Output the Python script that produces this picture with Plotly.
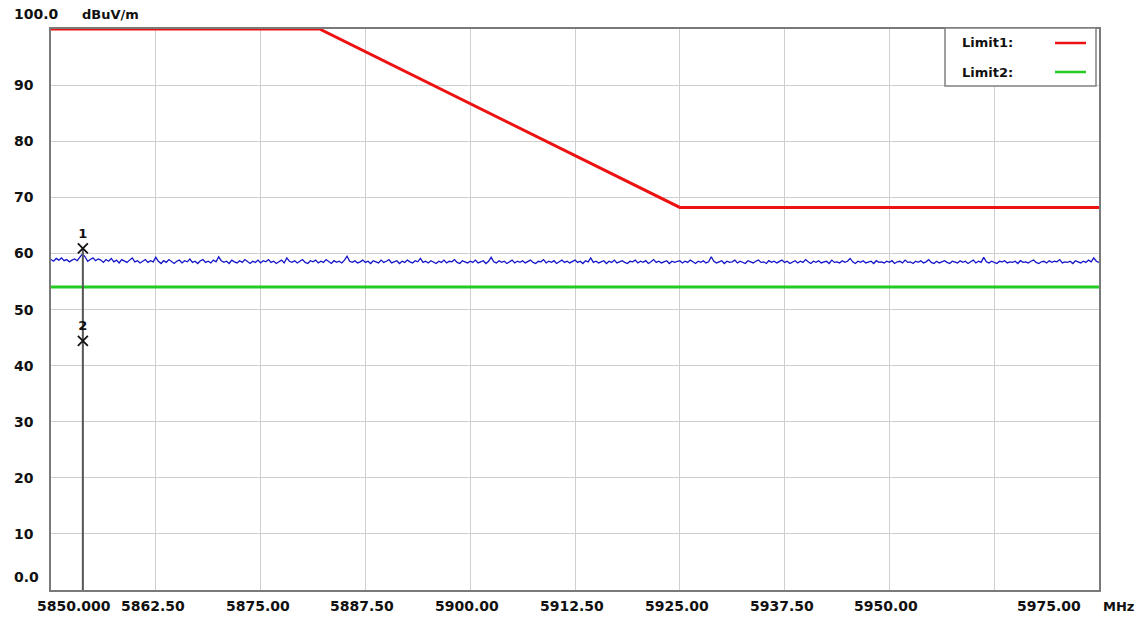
import plotly.graph_objects as go

# Frequency axis (MHz) and level axis (dBuV/m)
f_start, f_stop = 5850.0, 5975.0
x_grid = [5850.0, 5862.5, 5875.0, 5887.5, 5900.0, 5912.5, 5925.0, 5937.5, 5950.0, 5962.5, 5975.0]
x_labels = ["5850.000", "5862.50", "5875.00", "5887.50", "5900.00", "5912.50", "5925.00", "5937.50", "5950.00", "", "5975.00"]
y_grid = [0, 10, 20, 30, 40, 50, 60, 70, 80, 90, 100]
y_labels = ["0.0", "10", "20", "30", "40", "50", "60", "70", "80", "90", "100.0"]

# Limit lines
limit1_freq = [5850.0, 5882.03, 5925.0, 5975.0]
limit1_level = [100.0, 100.0, 68.2, 68.2]
limit2_freq = [5850.0, 5975.0]
limit2_level = [54.0, 54.0]

# Measured sweep, 0.3125 MHz step
sweep_step = 0.3125
sweep_level = [
    58.9, 58.6, 59.1, 58.8, 59.2, 58.7, 58.9, 58.5, 58.8, 59.0, 58.7, 59.3, 59.9, 59.4, 58.6, 58.9, 59.2, 58.7, 59.0, 58.8,
    58.4, 58.9, 58.6, 59.1, 58.5, 58.8, 58.3, 58.9, 58.6, 58.4, 58.8, 59.2, 58.5, 58.7, 58.3, 58.6, 58.9, 58.4, 58.7, 58.5,
    59.3, 58.6, 58.2, 58.7, 58.4, 58.9, 58.5, 58.2, 58.6, 58.8, 58.3, 58.7, 58.5, 59.0, 58.4, 58.6, 58.2, 58.7, 58.9, 58.4,
    58.6, 58.3, 58.8, 58.5, 59.4, 58.7, 58.4, 58.6, 58.2, 58.8, 58.5, 58.3, 58.7, 58.4, 58.9, 58.5, 58.2, 58.6, 58.4, 58.8,
    58.3, 58.7, 58.5, 58.9, 58.4, 58.6, 58.2, 58.5, 58.8, 58.3, 59.2, 58.6, 58.4, 58.7, 58.3, 58.6, 58.9, 58.4, 58.2, 58.7,
    58.5, 58.8, 58.3, 58.6, 58.4, 58.9, 58.5, 58.2, 58.7, 58.4, 58.6, 58.3, 58.8, 59.5, 58.6, 58.4, 58.7, 58.3, 58.5, 58.8,
    58.4, 58.6, 58.2, 58.7, 58.5, 58.3, 58.8, 58.4, 58.6, 58.9, 58.3, 58.5, 58.7, 58.2, 58.6, 58.4, 58.8, 58.5, 58.3, 58.7,
    58.5, 59.1, 58.4, 58.6, 58.3, 58.7, 58.5, 58.2, 58.6, 58.4, 58.8, 58.3, 58.6, 58.5, 58.9, 58.4, 58.2, 58.7, 58.5, 58.3,
    58.6, 58.4, 58.8, 58.3, 58.5, 58.7, 58.2, 58.6, 59.3, 58.5, 58.3, 58.7, 58.4, 58.6, 58.2, 58.5, 58.8, 58.3, 58.6, 58.4,
    58.7, 58.3, 58.5, 58.8, 58.4, 58.2, 58.6, 58.5, 58.9, 58.3, 58.6, 58.4, 58.7, 58.2, 58.5, 58.8, 58.4, 58.6, 58.3, 58.5,
    58.8, 58.4, 58.6, 58.2, 58.7, 58.5, 59.2, 58.4, 58.6, 58.3, 58.5, 58.7, 58.2, 58.6, 58.4, 58.8, 58.3, 58.5, 58.7, 58.4,
    58.2, 58.6, 58.5, 58.8, 58.3, 58.6, 58.4, 58.7, 58.2, 58.5, 58.9, 58.4, 58.6, 58.3, 58.5, 58.7, 58.2, 58.6, 58.4, 58.5,
    58.7, 58.3, 58.6, 58.4, 58.8, 58.5, 58.2, 58.6, 58.4, 58.7, 58.3, 58.5, 59.4, 58.6, 58.3, 58.5, 58.7, 58.2, 58.6, 58.4,
    58.5, 58.8, 58.3, 58.6, 58.4, 58.2, 58.7, 58.5, 58.3, 58.6, 58.8, 58.4, 58.5, 58.2, 58.7, 58.4, 58.6, 58.3, 58.5, 58.8,
    58.4, 58.6, 58.2, 58.5, 58.7, 58.3, 58.6, 58.4, 58.9, 58.5, 58.2, 58.6, 58.4, 58.7, 58.3, 58.5, 58.6, 58.2, 58.8, 58.4,
    58.5, 58.3, 58.7, 58.4, 58.6, 59.1, 58.5, 58.2, 58.6, 58.4, 58.7, 58.3, 58.5, 58.6, 58.2, 58.7, 58.4, 58.5, 58.3, 58.6,
    58.4, 58.7, 58.2, 58.5, 58.6, 58.3, 58.8, 58.4, 58.5, 58.2, 58.6, 58.4, 58.7, 58.3, 58.5, 58.9, 58.4, 58.2, 58.6, 58.3,
    58.5, 58.7, 58.4, 58.2, 58.6, 58.5, 58.3, 58.7, 58.4, 58.6, 58.2, 58.5, 58.8, 58.3, 58.6, 58.4, 59.3, 58.5, 58.3, 58.6,
    58.4, 58.2, 58.6, 58.5, 58.7, 58.3, 58.5, 58.4, 58.6, 58.2, 58.7, 58.4, 58.5, 58.3, 58.6, 58.8, 58.4, 58.2, 58.5, 58.6,
    58.3, 58.7, 58.4, 58.6, 58.5, 58.9, 58.3, 58.5, 58.4, 58.6, 58.2, 58.7, 58.5, 58.3, 58.6, 58.4, 58.8, 58.5, 59.2, 58.6,
    58.4,
]
sweep_freq = [f_start + i * sweep_step for i in range(len(sweep_level))]

# Markers
marker_ids = ["1", "2"]
marker_freq = [5853.8, 5853.8]
marker_level = [60.9, 44.4]

# Page geometry (pixels)
W, H = 1140, 618
M_L, M_R, M_T, M_B = 51, 41, 29, 28
PW, PH = W - M_L - M_R, H - M_T - M_B


def px_x(px):
    return (px - M_L) / PW


def px_y(py):
    return (H - M_B - py) / PH


BOLD = dict(family="DejaVu Sans", size=14, color="#111111", weight="bold")
BOLD_SM = dict(family="DejaVu Sans", size=13, color="#111111", weight="bold")

fig = go.Figure()

fig.add_trace(go.Scatter(
    x=sweep_freq, y=sweep_level, mode="lines",
    line=dict(color="#1414c8", width=1.3), hoverinfo="skip", showlegend=False,
))
fig.add_trace(go.Scatter(
    x=limit2_freq, y=limit2_level, mode="lines",
    line=dict(color="#22cc22", width=3), showlegend=False,
))
fig.add_trace(go.Scatter(
    x=limit1_freq, y=limit1_level, mode="lines",
    line=dict(color="#ee1111", width=3), showlegend=False, cliponaxis=False,
))
# Marker stem
fig.add_trace(go.Scatter(
    x=[marker_freq[0], marker_freq[0]], y=[0, marker_level[0]], mode="lines",
    line=dict(color="#555555", width=2), showlegend=False,
))
fig.add_trace(go.Scatter(
    x=marker_freq, y=marker_level, mode="markers+text",
    marker=dict(symbol="x-thin", size=10, line=dict(color="#111111", width=1.8)),
    text=marker_ids, textposition="top center",
    textfont=BOLD_SM,
    showlegend=False, cliponaxis=False,
))

annotations = []
for xv, lab in zip(x_grid, x_labels):
    if not lab:
        continue
    if lab == "5850.000":
        anchor, xs = "left", -16
    elif xv == f_stop:
        anchor, xs = "right", -16
    else:
        anchor, xs = "center", -3
    annotations.append(dict(x=xv, y=0, xref="x", yref="y", text=lab, showarrow=False,
                            xanchor=anchor, yanchor="middle", xshift=xs, yshift=-16, font=BOLD))
annotations.append(dict(x=f_stop, y=0, xref="x", yref="y", text="MHz", showarrow=False,
                        xanchor="left", yanchor="middle", xshift=2, yshift=-16, font=BOLD_SM))

for yv, lab in zip(y_grid, y_labels):
    shift = 15 if yv == 100 else (13 if yv == 0 else 0)
    annotations.append(dict(x=px_x(12), y=yv, xref="paper", yref="y", text=lab, showarrow=False,
                            xanchor="left", yanchor="middle", yshift=shift, font=BOLD))
annotations.append(dict(x=px_x(80), y=100, xref="paper", yref="y", text="dBuV/m", showarrow=False,
                        xanchor="left", yanchor="middle", yshift=15, font=BOLD_SM))

# Legend box
annotations.append(dict(x=px_x(960), y=px_y(43), xref="paper", yref="paper", text="Limit1:",
                        showarrow=False, xanchor="left", yanchor="middle", font=BOLD_SM))
annotations.append(dict(x=px_x(960), y=px_y(72), xref="paper", yref="paper", text="Limit2:",
                        showarrow=False, xanchor="left", yanchor="middle", font=BOLD_SM))

shapes = [
    dict(type="rect", xref="paper", yref="paper", x0=px_x(945), x1=px_x(1096), y0=px_y(86), y1=px_y(28),
         line=dict(color="#808080", width=1.5), fillcolor="white", layer="above"),
    dict(type="line", xref="paper", yref="paper", x0=px_x(1055), x1=px_x(1086), y0=px_y(43), y1=px_y(43),
         line=dict(color="#ee1111", width=2.5), layer="above"),
    dict(type="line", xref="paper", yref="paper", x0=px_x(1055), x1=px_x(1086), y0=px_y(72), y1=px_y(72),
         line=dict(color="#22cc22", width=2.5), layer="above"),
]

fig.update_layout(
    width=W, height=H,
    margin=dict(l=M_L, r=M_R, t=M_T, b=M_B),
    paper_bgcolor="white", plot_bgcolor="white",
    font=dict(family="DejaVu Sans", size=13, color="#111111"),
    annotations=annotations,
    shapes=shapes,
    showlegend=False,
)
fig.update_xaxes(
    range=[f_start, f_stop], tickvals=x_grid, showticklabels=False, ticks="",
    showgrid=True, gridcolor="#cfcfcf", gridwidth=1, zeroline=False,
    showline=True, linecolor="#7a7a7a", linewidth=2, mirror=True,
)
fig.update_yaxes(
    range=[0, 100], tickvals=y_grid, showticklabels=False, ticks="",
    showgrid=True, gridcolor="#cfcfcf", gridwidth=1, zeroline=False,
    showline=True, linecolor="#7a7a7a", linewidth=2, mirror=True,
)

fig.write_html("out.html")
